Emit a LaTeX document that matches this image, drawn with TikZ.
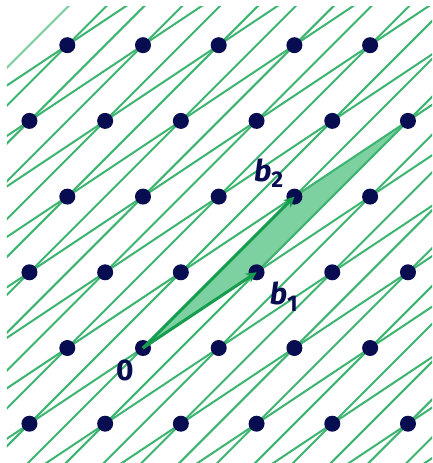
\documentclass[tikz,border=0pt]{standalone}
\usepackage{fontspec}
\newfontfamily\labelfont{Fira Sans}
\usepackage{xcolor}
\usepackage{tikz}
\usetikzlibrary{arrows.meta}

\definecolor{latgreen}{RGB}{61,180,112}
\definecolor{vecgreen}{RGB}{22,158,78}
\definecolor{cellgreen}{RGB}{125,208,160}
\definecolor{dotnavy}{RGB}{8,12,80}

\begin{document}
\begin{tikzpicture}[>=Stealth, x=1.514cm, y=1.514cm,
    latline/.style={latgreen, line width=1.15pt},
    dot/.style={circle, fill=dotnavy, inner sep=0pt, minimum size=0.32cm},
    vec/.style={->, vecgreen, line width=1.7pt, >={Stealth[length=6pt, width=6pt]}},
    lbl/.style={text=dotnavy, font=\labelfont\bfseries\fontsize{17}{19}\selectfont}]
  \useasboundingbox (-1.889,-1.519) rectangle (3.818,4.597);

  % Basis points
  \coordinate (O) at (0,0);
  \coordinate (B1) at (1.5,1);
  \coordinate (B2) at (2,2);
  \coordinate (B12) at (3.5,3);

  % Fundamental cell
  \fill[cellgreen] (O) -- (B1) -- (B12) -- (B2) -- cycle;

  % Lattice lines
  \begin{scope}
    \clip (-1.797,-1.519) rectangle (3.818,4.505);
    \draw[latline, opacity=0.65] (-7.5,-2) -- (-0.5,5);
    \foreach \k in {-10,...,10}
      \draw[latline] ({\k/2-2},-2) -- ({\k/2+5},5);
    \foreach \m in {-7,...,6}
      \draw[latline] ({\m-3},-2) -- ({\m+7.5},5);
  \end{scope}

  % Lattice points
  \foreach \j in {-1,...,4}
    \foreach \i in {-2,...,4} {
      \pgfmathsetmacro{\px}{\i+mod(\j+2,2)/2}
      \ifdim \px pt<3.6pt
        \ifdim \px pt>-1.6pt
          \node[dot] (p\i\j) at (\px,\j) {};
        \fi
      \fi
    }

  % Basis vectors
  \draw[vec] (O) -- (B1);
  \draw[vec] (O) -- (B2);

  % Labels
  \node[lbl] (l0) at (-0.24,-0.30) {0};
  \node[lbl] (lb1) at (1.86,0.68) {{\itshape b}\raisebox{-0.4ex}{\fontsize{13}{14}\selectfont 1}};
  \node[lbl] (lb2) at (1.66,2.31) {{\itshape b}\raisebox{-0.4ex}{\fontsize{13}{14}\selectfont 2}};
\end{tikzpicture}
\end{document}
